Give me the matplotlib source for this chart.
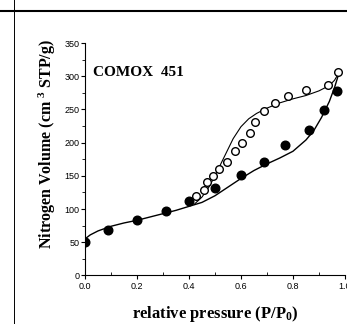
import matplotlib
matplotlib.use("Agg")
import matplotlib.pyplot as plt
from matplotlib.lines import Line2D
from matplotlib.ticker import MultipleLocator

# adsorption points (filled)
ads_p = [0.0, 0.09, 0.20, 0.31, 0.40, 0.50, 0.60, 0.69, 0.77, 0.86, 0.92, 0.97]
ads_v = [50, 68, 83, 97, 112, 132, 152, 171, 197, 219, 249, 278]

# desorption points (open)
des_p = [0.427, 0.458, 0.469, 0.492, 0.517, 0.546, 0.578, 0.604, 0.633,
         0.654, 0.687, 0.732, 0.782, 0.85, 0.935, 0.975]
des_v = [119, 128, 140, 150, 160, 171, 187, 200, 215, 231, 248, 259, 270,
         280, 287, 306]

# fitted curves
ads_line_p = [0.0, 0.02, 0.05, 0.1, 0.15, 0.2, 0.25, 0.3, 0.35, 0.4, 0.45,
              0.5, 0.55, 0.6, 0.65, 0.7, 0.75, 0.8, 0.85, 0.88, 0.91, 0.94,
              0.96, 0.975]
ads_line_v = [55, 61, 67, 74, 79, 83, 88, 93, 98, 104, 110, 120, 133, 146,
              158, 168, 177, 187, 204, 218, 238, 262, 283, 302]
des_line_p = [0.42, 0.45, 0.48, 0.51, 0.54, 0.57, 0.60, 0.63, 0.66, 0.70,
              0.75, 0.80, 0.85, 0.90, 0.94, 0.96, 0.975]
des_line_v = [107, 118, 135, 158, 182, 206, 224, 236, 244, 252, 260, 266,
              271, 278, 286, 294, 304]

plt.rcParams['mathtext.default'] = 'regular'

fig = plt.figure(figsize=(3.47, 3.24), dpi=100)
ax = fig.add_axes([0.245, 0.150, 0.749, 0.717])

ax.plot(ads_line_p, ads_line_v, color='black', lw=1.0)
ax.plot(des_line_p, des_line_v, color='black', lw=0.8)
ax.plot(ads_p, ads_v, 'o', color='black', ms=6.2, zorder=3)
ax.plot(des_p, des_v, 'o', mfc='white', mec='black', mew=1.0, ms=5.5, zorder=3)

ax.set_xlim(0, 1.0)
ax.set_ylim(0, 350)
ax.spines['top'].set_visible(False)
ax.spines['right'].set_visible(False)
ax.xaxis.set_major_locator(MultipleLocator(0.2))
ax.xaxis.set_minor_locator(MultipleLocator(0.1))
ax.yaxis.set_major_locator(MultipleLocator(50))
ax.yaxis.set_minor_locator(MultipleLocator(25))
ax.tick_params(axis='x', which='major', direction='out', length=3, labelsize=6.5, pad=2)
ax.tick_params(axis='x', which='minor', direction='in', length=2)
ax.tick_params(axis='y', which='major', direction='out', length=3, labelsize=6.5, pad=1)
ax.tick_params(axis='y', which='minor', direction='out', length=2)
for lab in ax.get_xticklabels() + ax.get_yticklabels():
    lab.set_family('Liberation Sans')
ax.xaxis.set_major_formatter(lambda v, pos: f"{v:.1f}")

serif = dict(family='Liberation Serif', weight='bold')
ax.set_xlabel('relative pressure (P/P$_0$)', fontsize=12, labelpad=9, **serif)
ax.set_ylabel('Nitrogen Volume (cm $^{3}$ STP/g)', fontsize=11.5, **serif)
ax.yaxis.set_label_coords(-0.105, 0.565)
ax.text(0.03, 0.875, 'COMOX  451', transform=ax.transAxes, fontsize=11,
        va='center', **serif)

# scan frame lines
fig.add_artist(Line2D([0, 1], [0.966, 0.966], color='black', lw=1.5))
fig.add_artist(Line2D([0.040, 0.040], [0, 1], color='black', lw=0.7))

fig.savefig('out.png', dpi=100)
